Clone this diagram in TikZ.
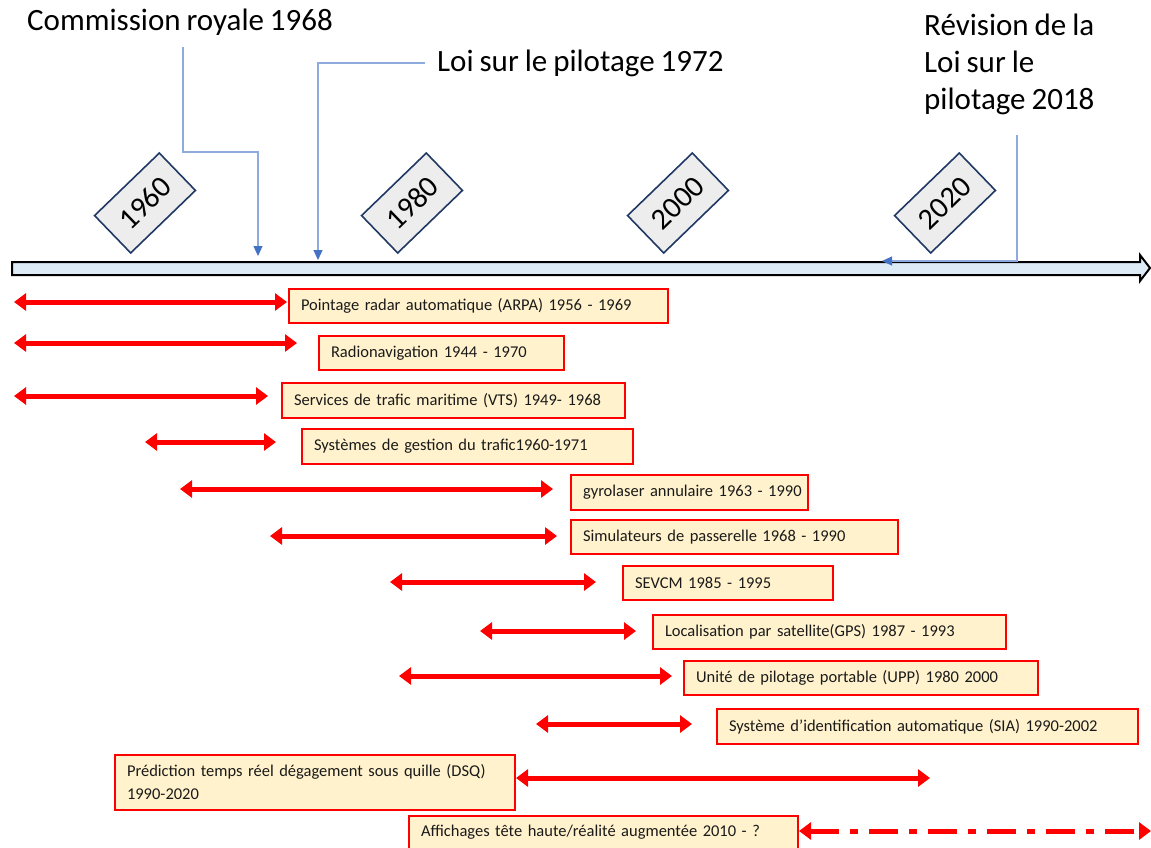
\documentclass[tikz,border=0pt]{standalone}
\usepackage{fontspec}
\setmainfont{Carlito}[WordSpace=0.85]
\usetikzlibrary{arrows.meta}
\definecolor{barblue}{HTML}{DDEBF7}
\definecolor{lineblue}{HTML}{8FAADC}
\definecolor{tipblue}{HTML}{4472C4}
\definecolor{yearborder}{HTML}{203864}
\definecolor{yearfill}{HTML}{EDEDED}
\definecolor{boxfill}{HTML}{FFF2CC}
\definecolor{txt}{HTML}{1A1A1A}
\newcommand\oneline[1]{\makebox[\linewidth][l]{#1}}
\tikzset{
  toplabel/.style={inner sep=0pt, anchor=west, font=\fontsize{31}{37}\selectfont, align=left},
  yearbox/.style={draw=yearborder, fill=yearfill, line width=1.6pt, rotate=44,
    minimum width=90pt, minimum height=52pt, inner sep=0pt, font=\fontsize{30}{30}\selectfont},
  pointer/.style={draw=lineblue, line width=1.2pt, -{Triangle[width=9pt,length=10pt,color=tipblue]}},
  evbox/.style={draw=red, fill=boxfill, line width=2pt, anchor=north west, inner xsep=12pt,
    inner ysep=0pt, align=left, text=txt, font=\fontsize{16.5}{23}\selectfont},
  span/.style={draw=red, line width=5pt,
    {Triangle[length=12pt,width=17pt]}-{Triangle[length=12pt,width=17pt]}},
}
\begin{document}
\begin{tikzpicture}[x=1pt,y=-1pt]
\useasboundingbox (0,0) rectangle (1151,847);
\clip (0,0) rectangle (1151,847);

% timeline bar
\draw[fill=barblue, line width=2pt, line join=miter]
  (12,262) -- (1140,262) -- (1140,255) -- (1150,268) -- (1140,281) -- (1140,275) -- (12,275) -- cycle;

% year boxes
\node[yearbox] (y1960) at (145,203) {1960};
\node[yearbox] (y1980) at (412,203) {1980};
\node[yearbox] (y2000) at (678,203) {2000};
\node[yearbox] (y2020) at (945,203) {2020};

% top labels
\node[toplabel] (comm) at (27,22) {Commission royale 1968};
\node[toplabel] (loi) at (437,63) {Loi sur le pilotage 1972};
\node[toplabel, anchor=north west] (rev) at (924,14) {Révision de la\\Loi sur le\\pilotage 2018};

\coordinate (c1) at (183,47);
\coordinate (c2) at (258,256);
\coordinate (l1) at (425,63);
\coordinate (l2) at (318,260);
\coordinate (r1) at (1017,135);
\coordinate (r2) at (882,261);
\draw[pointer] (c1) -- (183,152) -- (258,152) -- (c2);
\draw[pointer] (l1) -- (318,63) -- (l2);
\draw[pointer] (r1) -- (1017,261) -- (r2);

% event boxes
\node[evbox, text width=355pt, minimum height=34pt] (e1) at (288,288) {\oneline{Pointage radar automatique (ARPA) 1956 - 1969}};
\node[evbox, text width=221pt, minimum height=34pt] (e2) at (318,335) {\oneline{Radionavigation 1944 - 1970}};
\node[evbox, text width=319pt, minimum height=35pt] (e3) at (281,382) {\oneline{Services de trafic maritime (VTS) 1949- 1968}};
\node[evbox, text width=307pt, minimum height=35pt] (e4) at (301,428) {\oneline{Systèmes de gestion du trafic1960-1971}};
\node[evbox, text width=213pt, minimum height=35pt] (e5) at (570,474) {\oneline{gyrolaser annulaire 1963 - 1990}};
\node[evbox, text width=303pt, minimum height=34pt] (e6) at (570,519) {\oneline{Simulateurs de passerelle 1968 - 1990}};
\node[evbox, text width=186pt, minimum height=34pt] (e7) at (622,565) {\oneline{SEVCM 1985 - 1995}};
\node[evbox, text width=329pt, minimum height=34pt] (e8) at (652,614) {\oneline{Localisation par satellite(GPS) 1987 - 1993}};
\node[evbox, text width=330pt, minimum height=34pt] (e9) at (683,660) {\oneline{Unité de pilotage portable (UPP) 1980 2000}};
\node[evbox, text width=397pt, minimum height=35pt] (e10) at (716,708) {\oneline{Système d’identification automatique (SIA) 1990-2002}};
\node[evbox, text width=376pt, minimum height=55pt] (e11) at (114,754) {\oneline{Prédiction temps réel dégagement sous quille (DSQ)}\\\oneline{1990-2020}};
\node[evbox, text width=365pt, minimum height=33pt] (e12) at (408,815) {\oneline{Affichages tête haute/réalité augmentée 2010 - ?}};

% spans
\coordinate (a1) at (14,302);  \coordinate (b1) at (287,302);
\coordinate (a2) at (14,343);  \coordinate (b2) at (297,343);
\coordinate (a3) at (14,396);  \coordinate (b3) at (268,396);
\coordinate (a4) at (145,442); \coordinate (b4) at (276,442);
\coordinate (a5) at (180,489); \coordinate (b5) at (553,489);
\coordinate (a6) at (270,536); \coordinate (b6) at (557,536);
\coordinate (a7) at (390,582); \coordinate (b7) at (596,582);
\coordinate (a8) at (480,631); \coordinate (b8) at (636,631);
\coordinate (a9) at (399,676); \coordinate (b9) at (672,676);
\coordinate (a10) at (536,724); \coordinate (b10) at (692,724);
\coordinate (b11) at (930,778);
\coordinate (b12) at (1151,831);
\foreach \i in {1,...,10} {\draw[span] (a\i) -- (b\i);}
\draw[span] (e11.east |- b11) -- (b11);
\draw[span, dash pattern=on 29pt off 11pt on 8pt off 11pt] (e12.east |- b12) -- (b12);
\end{tikzpicture}
\end{document}
